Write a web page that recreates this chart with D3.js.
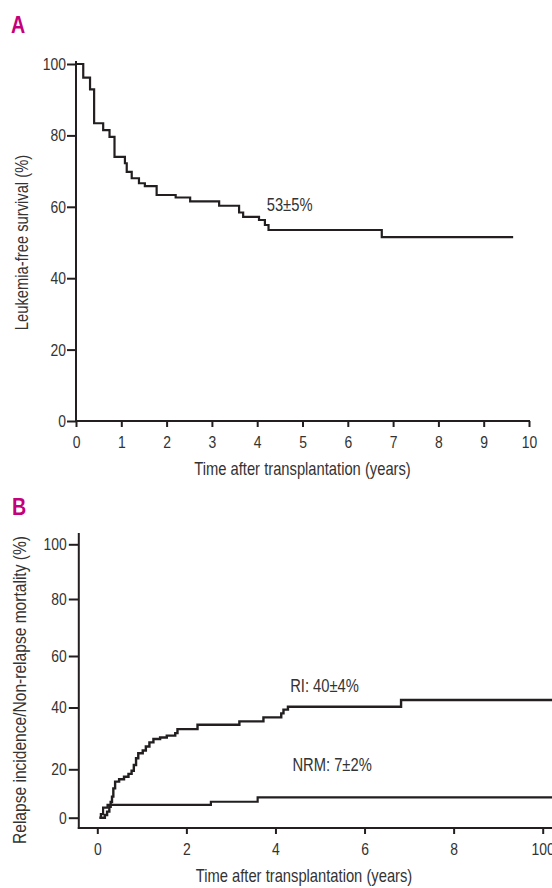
<!DOCTYPE html>
<html>
<head>
<meta charset="utf-8">
<script src="https://cdn.jsdelivr.net/npm/d3@7"></script>
<style>
  html, body { margin: 0; padding: 0; background: #fff; }
  svg { display: block; font-family: 'Liberation Sans', Arial, sans-serif; }
</style>
</head>
<body>
<div id="svg-container"></div>
<script>
// Panel A: leukemia-free survival (Kaplan-Meier steps)
const lfsTime = [0, 0.16, 0.31, 0.40, 0.60, 0.74, 0.85, 1.08, 1.12, 1.23, 1.39, 1.52, 1.78, 2.20, 2.52, 3.16, 3.60, 3.69, 4.04, 4.17, 4.25, 6.75, 9.65]
const lfsValue = [100, 96.2, 92.9, 83.4, 81.5, 79.6, 74.0, 72.2, 69.8, 68.0, 66.6, 65.8, 63.3, 62.6, 61.5, 60.3, 58.4, 57.2, 56.3, 54.9, 53.5, 51.5, 51.5]

// Panel B: relapse incidence and non-relapse mortality
const riTime = [0.05, 0.17, 0.22, 0.27, 0.30, 0.33, 0.36, 0.40, 0.49, 0.60, 0.70, 0.77, 0.82, 0.87, 0.92, 1.02, 1.09, 1.17, 1.26, 1.41, 1.56, 1.75, 1.80, 2.25, 3.19, 3.73, 4.13, 4.18, 4.28, 6.82, 10.25]
const riValue = [0, 1.1, 2.5, 4.5, 6.5, 8.7, 12.1, 14.9, 15.9, 16.9, 18.1, 19.4, 21.4, 23.6, 25.2, 26.1, 27.4, 28.7, 29.8, 30.3, 30.9, 31.7, 33.0, 34.4, 35.5, 36.8, 38.1, 39.3, 40.3, 42.9, 42.9]
const nrmTime = [0.05, 0.08, 0.13, 0.23, 2.55, 3.60, 10.25]
const nrmValue = [0, 1.5, 4.2, 5.3, 6.6, 8.4, 8.4]

const xTicksA = [0, 1, 2, 3, 4, 5, 6, 7, 8, 9, 10]
const yTicksA = [0, 20, 40, 60, 80, 100]
const xTicksB = [0, 2, 4, 6, 8, 10]
const xTickLabelsB = ['0', '2', '4', '6', '8', '100']
const yTicksB = [0, 20, 40, 60, 80, 100]

const annotations = [
  { panel: 'A', t: 4.21, v: 58.9, text: '53±5%' },
  { panel: 'B', t: 4.33, v: 45.9, text: 'RI: 40±4%' },
  { panel: 'B', t: 4.38, v: 19.3, text: 'NRM: 7±2%' },
]

;(function () {
  const ink = '#231f20'
  const textColor = '#333'
  const magenta = '#c4007a'
  // no narrow face installed: squeeze a regular sans horizontally
  const narrow = 0.82

  const svg = d3
    .select('#svg-container')
    .append('svg')
    .attr('width', 552)
    .attr('height', 888)

  // scales
  const xA = d3.scaleLinear().domain([0, 10]).range([76, 529])
  const yA = d3.scaleLinear().domain([0, 100]).range([421, 64])
  const xB = d3.scaleLinear().domain([0, 10]).range([97.3, 542.7])
  // the printed y axis of panel B has slightly uneven tick spacing
  const yB = d3
    .scaleLinear()
    .domain([0, 20, 40, 60, 80, 100])
    .range([817.7, 769.3, 707.5, 656, 599, 544.3])

  const line = (x, y) =>
    d3
      .line()
      .x(d => x(d[0]))
      .y(d => y(d[1]))
      .curve(d3.curveStepAfter)

  const styleAxis = (g, left) => {
    g.selectAll('.domain').remove()
    g.selectAll('.tick line').attr('stroke', ink).attr('stroke-width', 2)
    const t = g.selectAll('.tick text')
      .attr('fill', textColor)
      .attr('transform', `scale(${narrow},1)`)
      .style('font-size', '17px')
    t.attr('font-family', null)
    if (left) t.attr('x', function () { return +d3.select(this).attr('x') / narrow })
  }

  const label = (x, y, rot, size, txt) =>
    svg.append('text')
      .attr('transform', `translate(${x},${y}) rotate(${rot}) scale(${narrow},1)`)
      .attr('fill', textColor)
      .style('font-size', `${size}px`)
      .text(txt)

  // ---------- Panel A ----------
  label(11, 33, 0, 24, 'A').attr('fill', magenta).style('font-weight', 'bold')

  svg.append('g')
    .attr('transform', `translate(${xA(0)},0)`)
    .call(d3.axisLeft(yA).tickValues(yTicksA).tickSize(9).tickPadding(1))
    .call(g => styleAxis(g, true))

  svg.append('g')
    .attr('transform', `translate(0,${yA(0)})`)
    .call(d3.axisBottom(xA).tickValues(xTicksA).tickSize(6).tickPadding(9))
    .call(g => styleAxis(g, false))

  svg.append('line')
    .attr('x1', xA(0)).attr('x2', xA(0))
    .attr('y1', yA(100) - 3).attr('y2', yA(0) + 1)
    .attr('stroke', ink).attr('stroke-width', 2)
  svg.append('line')
    .attr('x1', xA(0) - 1).attr('x2', xA(10) + 1)
    .attr('y1', yA(0)).attr('y2', yA(0))
    .attr('stroke', ink).attr('stroke-width', 2)

  svg.append('path')
    .datum(d3.zip(lfsTime, lfsValue))
    .attr('d', line(xA, yA))
    .attr('fill', 'none')
    .attr('stroke', ink)
    .attr('stroke-width', 2.2)

  label(28, (yA(0) + yA(100)) / 2, -90, 18, 'Leukemia-free survival (%)')
    .attr('text-anchor', 'middle')

  label((xA(0) + xA(10)) / 2, 475, 0, 18, 'Time after transplantation (years)')
    .attr('text-anchor', 'middle')

  // ---------- Panel B ----------
  label(12, 515, 0, 24, 'B').attr('fill', magenta).style('font-weight', 'bold')

  const xAxisYB = 828
  const yAxisXB = 78.8

  svg.append('g')
    .attr('transform', `translate(${yAxisXB},0)`)
    .call(d3.axisLeft(yB).tickValues(yTicksB).tickSize(10).tickPadding(2))
    .call(g => styleAxis(g, true))

  svg.append('g')
    .attr('transform', `translate(0,${xAxisYB})`)
    .call(
      d3.axisBottom(xB)
        .tickValues(xTicksB)
        .tickFormat((d, i) => xTickLabelsB[i])
        .tickSize(6)
        .tickPadding(9),
    )
    .call(g => styleAxis(g, false))

  svg.append('line')
    .attr('x1', yAxisXB).attr('x2', yAxisXB)
    .attr('y1', 533).attr('y2', xAxisYB + 1)
    .attr('stroke', ink).attr('stroke-width', 2)
  svg.append('line')
    .attr('x1', yAxisXB - 1).attr('x2', 552)
    .attr('y1', xAxisYB).attr('y2', xAxisYB)
    .attr('stroke', ink).attr('stroke-width', 2)

  svg.append('path')
    .datum(d3.zip(nrmTime, nrmValue))
    .attr('d', line(xB, yB))
    .attr('fill', 'none')
    .attr('stroke', ink)
    .attr('stroke-width', 2.2)

  svg.append('path')
    .datum(d3.zip(riTime, riValue))
    .attr('d', line(xB, yB))
    .attr('fill', 'none')
    .attr('stroke', ink)
    .attr('stroke-width', 2.4)

  label(26, 690, -90, 19, 'Relapse incidence/Non-relapse mortality (%)')
    .attr('text-anchor', 'middle')

  label(304, 882, 0, 18, 'Time after transplantation (years)')
    .attr('text-anchor', 'middle')

  // annotations
  svg.append('g')
    .selectAll('text')
    .data(annotations)
    .join('text')
    .attr('transform', d => {
      const x = d.panel === 'A' ? xA(d.t) : xB(d.t)
      const y = d.panel === 'A' ? yA(d.v) : yB(d.v)
      return `translate(${x},${y}) scale(${narrow},1)`
    })
    .attr('fill', textColor)
    .style('font-size', '18px')
    .text(d => d.text)
})()
</script>
</body>
</html>
